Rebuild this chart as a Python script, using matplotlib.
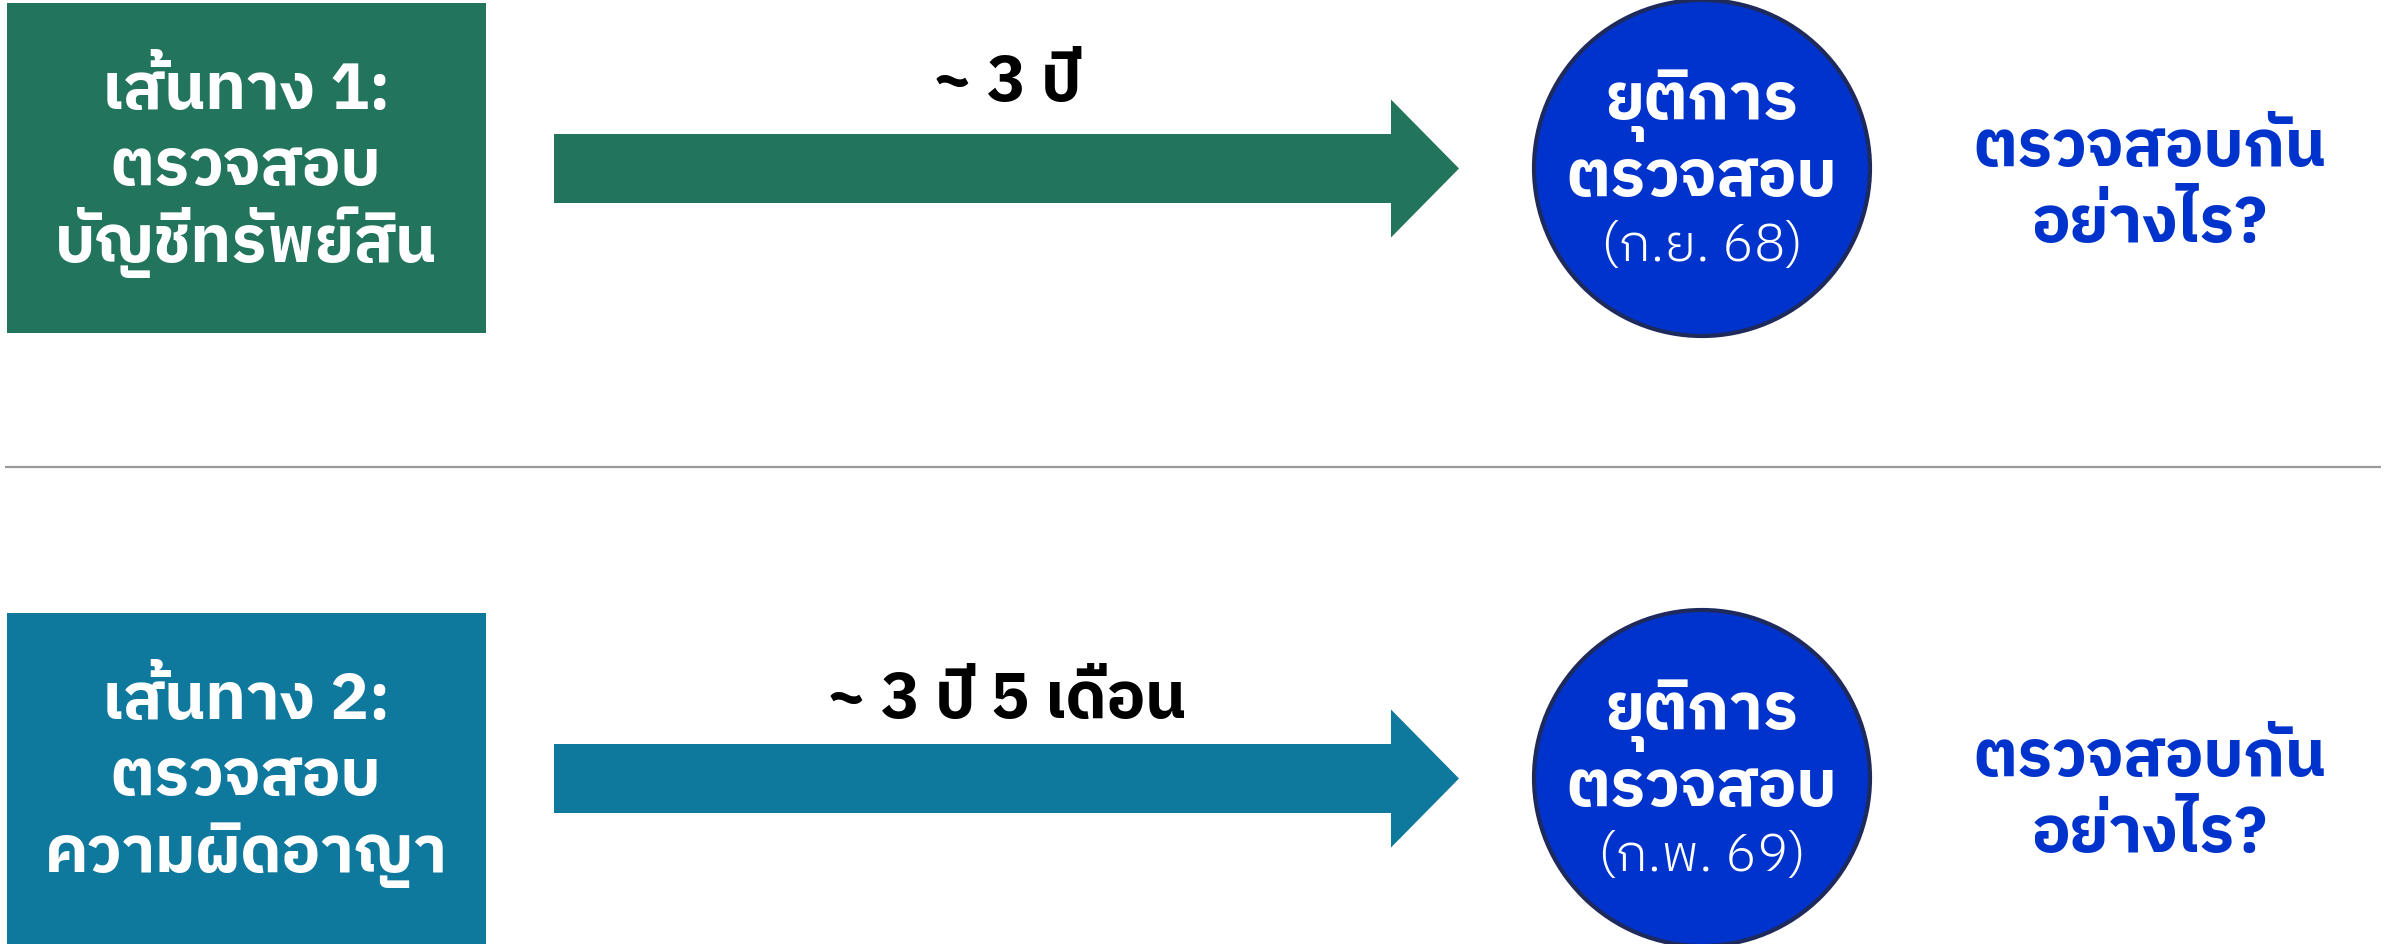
import matplotlib
matplotlib.use('Agg')
import matplotlib.pyplot as plt
from matplotlib import font_manager as fm
from matplotlib.font_manager import FontProperties
from matplotlib.patches import Rectangle, Circle, Polygon

# ---------------- data ----------------
route_titles = ["เส้นทาง 1:", "เส้นทาง 2:"]
route_line2 = ["ตรวจสอบ", "ตรวจสอบ"]
route_line3 = ["บัญชีทรัพย์สิน", "ความผิดอาญา"]
durations = ["~ 3 ปี", "~ 3 ปี 5 เดือน"]
end_line1 = ["ยุติการ", "ยุติการ"]
end_line2 = ["ตรวจสอบ", "ตรวจสอบ"]
end_dates = ["(ก.ย. 68)", "(ก.พ. 69)"]
question_line1 = ["ตรวจสอบกัน", "ตรวจสอบกัน"]
question_line2 = ["อย่างไร?", "อย่างไร?"]
box_colors = ["#23745C", "#0E789D"]

# ---------------- fonts ----------------
_paths = set(f.fname for f in fm.fontManager.ttflist) | set(fm.findSystemFonts())


def pick(names):
    for n in names:
        for p in _paths:
            if p.split('/')[-1] == n:
                return FontProperties(fname=p)
    return FontProperties(family='DejaVu Sans')


fp_bold = pick(["IBMPlexSansThai-Bold.ttf", "IBMPlexSansThai-SemiBold.ttf", "Sarabun-Bold.ttf"])
fp_light = pick(["IBMPlexSansThai-Light.ttf", "IBMPlexSansThai-Regular.ttf", "Sarabun-Light.ttf"])

# ---------------- figure ----------------
W, H = 2403, 945
fig = plt.figure(figsize=(W / 100, H / 100), dpi=100)
ax = fig.add_axes([0, 0, 1, 1])
ax.set_xlim(0, W)
ax.set_ylim(H, 0)
ax.axis('off')

row_offset = [0, 610]
box_top = [4, 614]
box_bottom = [334, 945]
BIG = 46.5
SMALL = 38
for i in range(2):
    dy = row_offset[i]
    # left box
    ax.add_patch(Rectangle((7, box_top[i]), 479, box_bottom[i] - box_top[i],
                           facecolor=box_colors[i], edgecolor='none'))
    for txt, yb in zip([route_titles[i], route_line2[i], route_line3[i]], [109, 185, 262]):
        ax.text(246, yb + dy, txt, color='white', fontproperties=fp_bold, fontsize=BIG,
                ha='center', va='baseline')
    # arrow
    cy = 169.5 + dy
    arrow = Polygon([(554, cy - 34.5), (1391, cy - 34.5), (1391, cy - 69), (1459, cy),
                     (1391, cy + 69), (1391, cy + 34.5), (554, cy + 34.5)],
                    closed=True, facecolor=box_colors[i], edgecolor='none')
    ax.add_patch(arrow)
    ax.text(1007, 101 + dy + (7 if i else 0), durations[i], color='black', fontproperties=fp_bold,
            fontsize=BIG, ha='center', va='baseline')
    # circle
    ax.add_patch(Circle((1702, 169 + dy), 168, facecolor='#0033CC', edgecolor='#1F2A5C',
                        linewidth=3))
    ax.text(1702, 119 + dy, end_line1[i], color='white', fontproperties=fp_bold, fontsize=BIG,
            ha='center', va='baseline')
    ax.text(1702, 196 + dy, end_line2[i], color='white', fontproperties=fp_bold, fontsize=BIG,
            ha='center', va='baseline')
    ax.text(1702, 261 + dy, end_dates[i], color='white', fontproperties=fp_light, fontsize=SMALL,
            ha='center', va='baseline')
    # question
    ax.text(2150, 166 + dy, question_line1[i], color='#0033CC', fontproperties=fp_bold,
            fontsize=BIG, ha='center', va='baseline')
    ax.text(2150, 242 + dy, question_line2[i], color='#0033CC', fontproperties=fp_bold,
            fontsize=BIG, ha='center', va='baseline')

# divider
ax.plot([5, 2381], [468, 468], color='#9A9A9A', linewidth=1.6, solid_capstyle='butt')

fig.savefig('out.png', dpi=100)
